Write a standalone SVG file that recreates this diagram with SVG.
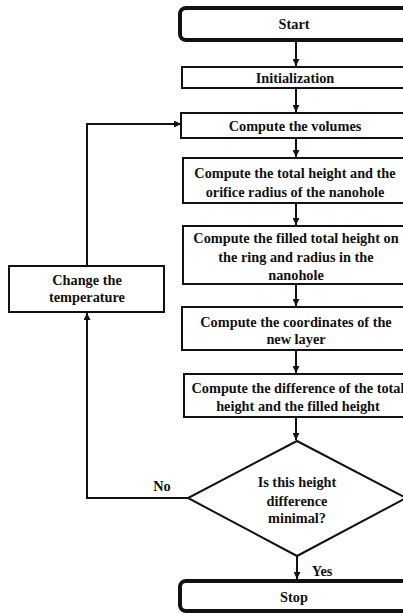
<svg xmlns="http://www.w3.org/2000/svg" width="403" height="614" viewBox="0 0 403 614">
<style>
text{font-family:"Liberation Serif","Times New Roman",serif;font-weight:bold;font-size:14.3px;fill:#111;text-anchor:middle}
.box{fill:#fff;stroke:#111;stroke-width:2}
.term{fill:#fff;stroke:#111;stroke-width:4}
.ln{fill:none;stroke:#111;stroke-width:2}
</style>
<defs>
<marker id="ah" viewBox="0 0 10 10" refX="10" refY="5" markerWidth="7" markerHeight="7" markerUnits="userSpaceOnUse" orient="auto">
<path d="M0,0 L10,5 L0,10 z" fill="#111"/>
</marker>
</defs>
<rect width="403" height="614" fill="#fff"/>
<g id="connectors">
<line class="ln" x1="296" y1="42" x2="296" y2="66" marker-end="url(#ah)"/>
<line class="ln" x1="296" y1="88" x2="296" y2="112" marker-end="url(#ah)"/>
<line class="ln" x1="296" y1="138" x2="296" y2="157" marker-end="url(#ah)"/>
<line class="ln" x1="296" y1="203" x2="296" y2="225" marker-end="url(#ah)"/>
<line class="ln" x1="296" y1="284" x2="296" y2="306" marker-end="url(#ah)"/>
<line class="ln" x1="296" y1="350" x2="296" y2="373" marker-end="url(#ah)"/>
<line class="ln" x1="296" y1="417" x2="296" y2="440" marker-end="url(#ah)"/>
<line class="ln" x1="297" y1="556" x2="297" y2="579" marker-end="url(#ah)"/>
<polyline class="ln" points="188,498 87,498 87,313" marker-end="url(#ah)"/>
<polyline class="ln" points="87,266 87,124 181,124" marker-end="url(#ah)"/>
<text x="162" y="491">No</text>
<text x="322" y="576">Yes</text>
</g>
<g id="start"><rect class="term" x="180" y="8" width="234" height="32" rx="6"/><text x="294" y="29">Start</text></g>
<g id="init"><rect class="box" x="182" y="67" width="232" height="21"/><text x="295" y="83">Initialization</text></g>
<g id="volumes"><rect class="box" x="181" y="113" width="233" height="25"/><text x="295" y="131">Compute the volumes</text></g>
<g id="total"><rect class="box" x="183" y="158" width="231" height="45"/><text x="295" y="178">Compute the total height and the</text><text x="295" y="197">orifice radius of the nanohole</text></g>
<g id="filled"><rect class="box" x="183" y="226" width="231" height="58"/><text x="296" y="243">Compute the filled total height on</text><text x="296" y="262">the ring and radius in the</text><text x="296" y="280">nanohole</text></g>
<g id="coords"><rect class="box" x="182" y="307" width="232" height="43"/><text x="296" y="327">Compute the coordinates of the</text><text x="296" y="344">new layer</text></g>
<g id="difference"><rect class="box" x="184" y="374" width="230" height="43"/><text x="298" y="393">Compute the difference of the total</text><text x="298" y="411">height and the filled height</text></g>
<g id="decision"><polygon class="box" points="297,441 406,498 297,556 188,498"/><text x="297" y="487">Is this height</text><text x="297" y="506">difference</text><text x="297" y="523">minimal?</text></g>
<g id="stop"><rect class="term" x="180" y="581" width="234" height="30" rx="6"/><text x="294" y="602">Stop</text></g>
<g id="change"><rect class="box" x="9" y="266" width="155" height="46"/><text x="87" y="285">Change the</text><text x="87" y="302">temperature</text></g>
</svg>
